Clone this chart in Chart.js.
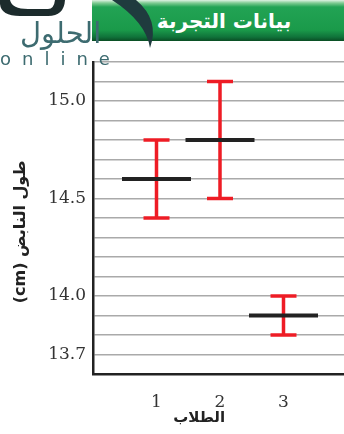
<!DOCTYPE html>
<html lang="ar">
<head>
<meta charset="utf-8">
<script src="https://cdn.jsdelivr.net/npm/chart.js@4/dist/chart.umd.min.js"></script>
<style>
  html, body { margin: 0; padding: 0; background: #fff; overflow: hidden; }
  #wrap { position: relative; width: 344px; height: 434px; overflow: hidden; }
  #box { position: absolute; left: 0; top: 0; width: 347px; height: 434px; }
  .header {
    position: absolute; left: 92px; top: 0; width: 252px; height: 41px;
    background: linear-gradient(to bottom, #dff2e3 0, #7fcb92 3px, #22a354 7px, #1a9a4a 30px, #10733a 37px, #0a4d24 41px);
    color: #fff; font: bold 20px "DejaVu Sans", sans-serif;
    display: flex; align-items: center; justify-content: center; padding-left: 12px; box-sizing: border-box;
    direction: rtl;
  }
  .logo-ar { position: absolute; left: 20px; top: 16px; font: 29px "DejaVu Sans", sans-serif; color: #3d6b70; direction: rtl; }
  .logo-en { position: absolute; left: 0; top: 48px; font: 18px "DejaVu Sans", sans-serif; color: #3d6b70; letter-spacing: 11px; }
  svg.deco { position: absolute; left: 0; top: 0; }
</style>
</head>
<body>
<div id="wrap">
  <div id="box"><canvas id="chart" width="347" height="434"></canvas></div>
  <div class="header">بيانات التجربة</div>
  <div class="logo-ar">الحلول</div>
  <div class="logo-en">online</div>
  <svg class="deco" width="160" height="50">
    <path d="M0 0 L10 0 Q12 9 28 9 L48 9 Q54 9 55 0 L65 0 Q64 16 48 16 L20 16 Q1 16 0 4 Z" fill="#1c2b2c"/>
    <path d="M112 0 L136 0 Q160 20 150 48 Q146 22 112 0 Z" fill="#1f3b3e"/>
  </svg>
</div>
<script>
// Дані досліду: довжина пружини для кожного учня (середнє, межі)
const STUDENTS = ["1", "2", "3"];
const STUDENT_X = [1, 2, 3];
const MEAN_LENGTH = [14.6, 14.8, 13.9];
const MAX_LENGTH = [14.8, 15.1, 14.0];
const MIN_LENGTH = [14.4, 14.5, 13.8];
const Y_LABELS = [13.7, 14.0, 14.5, 15.0];

const RED = "#ee1c25";
const DARK = "#222";
const PAD = n => "\u00A0".repeat(n);

const pts = vals => STUDENT_X.map((x, i) => ({ x, y: vals[i] }));
// вертикальні відрізки похибки: (x, min) -> (x, max), розрив через null
const whiskers = STUDENT_X.flatMap((x, i) => [
  { x, y: MIN_LENGTH[i] }, { x, y: MAX_LENGTH[i] }, { x, y: null }
]);

new Chart(document.getElementById("chart"), {
  type: "scatter",
  data: {
    datasets: [
      {
        data: pts(MEAN_LENGTH),
        pointStyle: "line",
        pointRadius: 34.5,
        pointBorderWidth: 4,
        borderColor: DARK,
        order: 0
      },
      {
        data: [...pts(MAX_LENGTH), ...pts(MIN_LENGTH)],
        pointStyle: "line",
        pointRadius: 13,
        pointBorderWidth: 3.5,
        borderColor: RED,
        order: 1
      },
      {
        type: "line",
        data: whiskers,
        showLine: true,
        spanGaps: false,
        borderColor: RED,
        borderWidth: 3.5,
        pointRadius: 0,
        order: 2
      }
    ]
  },
  options: {
    responsive: false,
    animation: false,
    events: [],
    // без autoPadding великі pointRadius не стискають область графіка
    layout: { autoPadding: false, padding: { top: 62, right: 0, left: 0, bottom: 0 } },
    plugins: { legend: { display: false }, tooltip: { enabled: false } },
    scales: {
      x: {
        type: "linear",
        min: 0,
        max: 4,
        afterBuildTicks: s => { s.ticks = STUDENT_X.map(v => ({ value: v })); },
        afterFit: s => { s.height = 60; },
        grid: { display: false },
        border: { display: true, color: DARK, width: 2.5 },
        ticks: {
          padding: 10,
          autoSkip: false,
          maxRotation: 0,
          color: "#333",
          font: { family: "DejaVu Serif", size: 17 },
          callback: v => STUDENTS[STUDENT_X.indexOf(v)] ?? ""
        },
        title: {
          display: true,
          text: "الطلاب" + PAD(8),
          color: "#222",
          font: { family: "DejaVu Sans", size: 15, weight: "bold" },
          padding: { top: 0, bottom: 7 }
        }
      },
      y: {
        min: 13.6,
        max: 15.2,
        afterBuildTicks: s => {
          const t = [];
          for (let k = 136; k <= 152; k++) t.push({ value: k / 10 });
          s.ticks = t;
        },
        afterFit: s => { s.width = 93; },
        grid: { color: "#aaa", lineWidth: 1.5, drawTicks: false },
        border: { display: true, color: DARK, width: 2.5 },
        ticks: {
          padding: 7,
          autoSkip: false,
          color: "#333",
          font: { family: "DejaVu Serif", size: 17 },
          callback: v => Y_LABELS.some(l => Math.abs(l - v) < 1e-6) ? v.toFixed(1) : ""
        },
        title: {
          display: true,
          text: "(cm) طول النابض" + PAD(5),
          color: "#222",
          font: { family: "DejaVu Sans", size: 16, weight: "bold" },
          padding: { top: 11, bottom: 0 }
        }
      }
    }
  }
});
</script>
</body>
</html>
